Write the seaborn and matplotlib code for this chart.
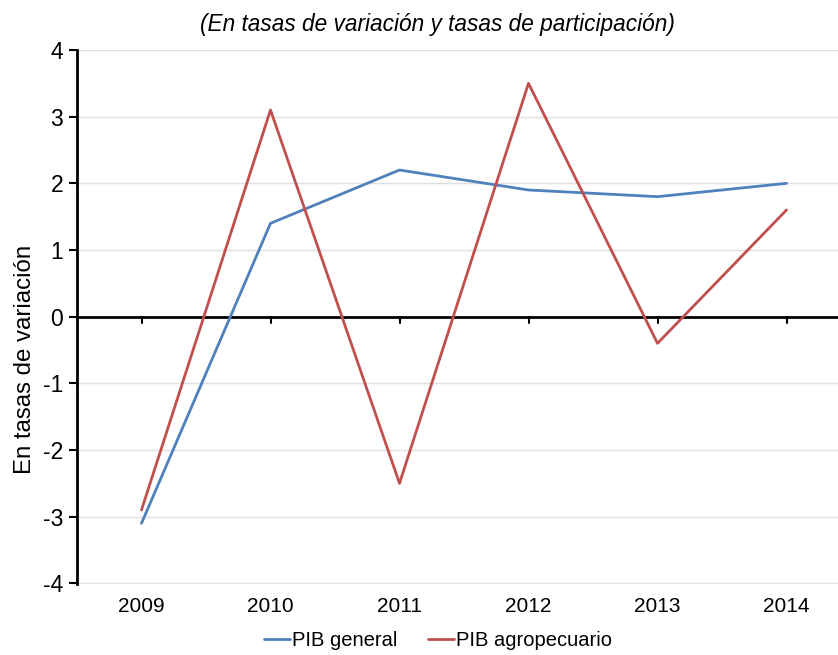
import matplotlib.pyplot as plt
import pandas as pd
import seaborn as sns

years = ["2009", "2010", "2011", "2012", "2013", "2014"]
pib_general = [-3.1, 1.4, 2.2, 1.9, 1.8, 2.0]
pib_agro = [-2.9, 3.1, -2.5, 3.5, -0.4, 1.6]
series_names = ["PIB general", "PIB agropecuario"]
y_ticks = [4, 3, 2, 1, 0, -1, -2, -3, -4]

df = pd.DataFrame({
    "year": years * 2,
    "value": pib_general + pib_agro,
    "serie": [series_names[0]] * len(years) + [series_names[1]] * len(years),
})
df["pos"] = df["year"].map({y: i for i, y in enumerate(years)})

sns.set_style("white")
plt.rcParams["font.family"] = ["Liberation Sans", "DejaVu Sans"]
plt.rcParams["text.color"] = "black"
plt.rcParams["axes.labelcolor"] = "black"
plt.rcParams["ytick.color"] = "black"
plt.rcParams["xtick.color"] = "black"

fig = plt.figure(figsize=(8.38, 6.55), dpi=100)
ax = fig.add_axes([77 / 838, 1 - 584 / 655, (851 - 77) / 838, (584 - 50) / 655])

sns.lineplot(data=df, x="pos", y="value", hue="serie", hue_order=series_names,
             palette=["#4F81BD", "#C0504D"], linewidth=2, ax=ax, legend=True)

ax.set_xlim(-0.5, 5.5)
ax.set_ylim(-4.01, 4)
ax.set_yticks(y_ticks)
ax.set_yticklabels([str(t) for t in y_ticks], fontsize=16.5)
ax.yaxis.grid(True, color="#e0e0e0", linewidth=1)
ax.set_axisbelow(True)

for s in ["top", "right", "bottom"]:
    ax.spines[s].set_visible(False)
ax.spines["left"].set_color("black")
ax.spines["left"].set_linewidth(2)
ax.tick_params(axis="y", direction="out", length=6, width=1.5, color="black", left=True, pad=4)

# zero line with category tick marks
ax.axhline(0, color="black", linewidth=2, zorder=1)
ax.set_xticks(range(len(years)))
ax.set_xticklabels([])
ax.tick_params(axis="x", bottom=False)
for i in range(len(years)):
    ax.plot([i, i], [0, -0.09], color="black", linewidth=1.5, zorder=1)
    ax.text(i, -4.2, years[i], ha="center", va="top", fontsize=15)

ax.set_xlabel("")
ax.set_ylabel("En tasas de variación", fontsize=17.3)
ax.yaxis.set_label_coords(-0.053, 0.42)

fig.text(437 / 838, 1 - 25 / 655, "(En tasas de variación y tasas de participación)",
         ha="center", va="center", fontsize=16.3, style="italic")

handles, labels = ax.get_legend_handles_labels()
ax.legend(handles, labels, loc="center", bbox_to_anchor=(438 / 838, 1 - 641 / 655),
          bbox_transform=fig.transFigure, ncol=2, frameon=False, fontsize=14.5,
          handlelength=1.3, handletextpad=0.1, columnspacing=1.5)

fig.savefig("out.png", dpi=100)
